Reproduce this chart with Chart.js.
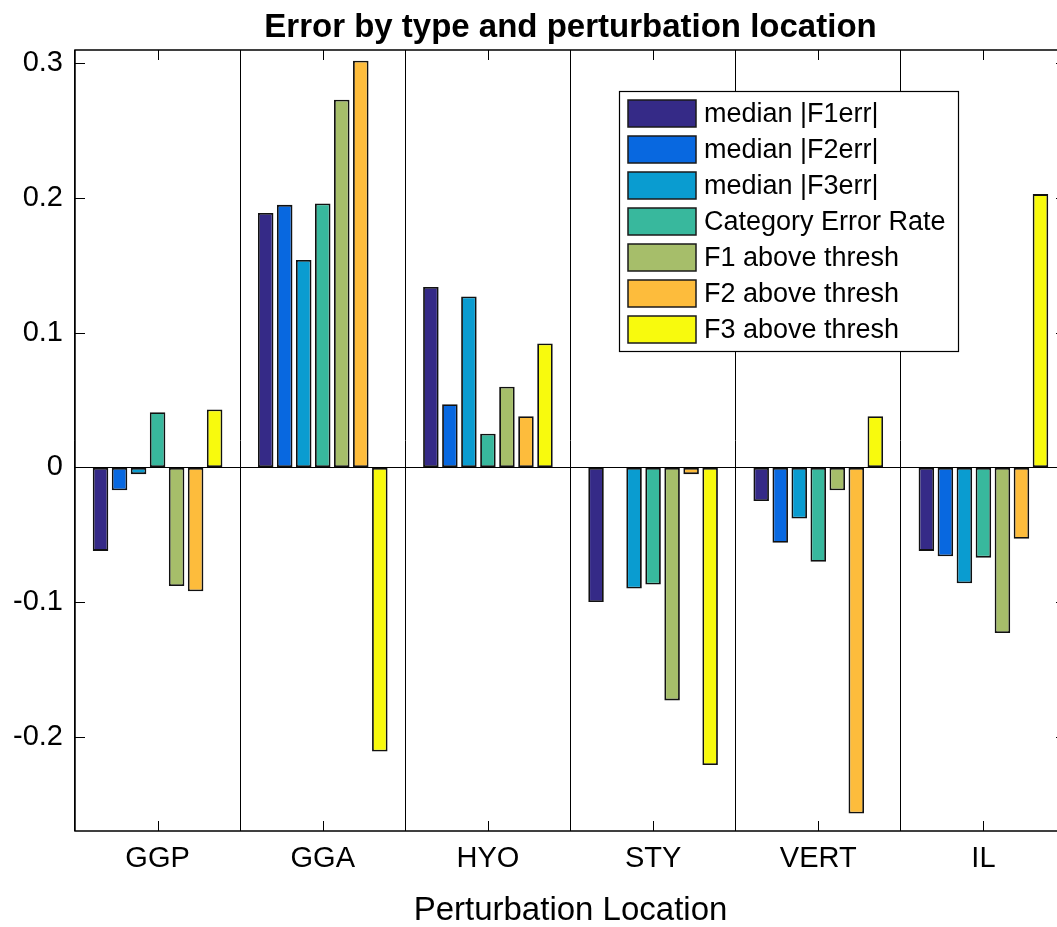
<!DOCTYPE html>
<html>
<head>
<meta charset="utf-8">
<title>Error by type and perturbation location</title>
<script src="https://cdn.jsdelivr.net/npm/chart.js@4.4.1/dist/chart.umd.min.js"></script>
<style>
  html, body { margin: 0; padding: 0; background: #fff; overflow: hidden; }
</style>
</head>
<body>
<canvas id="chart" width="1070" height="927"></canvas>
<script>
// categories along x
const categories = ['GGP', 'GGA', 'HYO', 'STY', 'VERT', 'IL'];

// one array per series (GGP, GGA, HYO, STY, VERT, IL)
const medianF1err   = [-0.062, 0.189, 0.134, -0.100, -0.025, -0.062];
const medianF2err   = [-0.017, 0.195, 0.047,  0.000, -0.056, -0.066];
const medianF3err   = [-0.005, 0.154, 0.127, -0.090, -0.038, -0.086];
const catErrorRate  = [ 0.041, 0.196, 0.025, -0.087, -0.070, -0.067];
const f1AboveThresh = [-0.088, 0.273, 0.060, -0.173, -0.017, -0.123];
const f2AboveThresh = [-0.092, 0.302, 0.038, -0.005, -0.257, -0.053];
const f3AboveThresh = [ 0.043, -0.211, 0.092, -0.221, 0.038, 0.203];

const seriesLabels = ['median |F1err|', 'median |F2err|', 'median |F3err|',
  'Category Error Rate', 'F1 above thresh', 'F2 above thresh', 'F3 above thresh'];
const seriesValues = [medianF1err, medianF2err, medianF3err, catErrorRate,
  f1AboveThresh, f2AboveThresh, f3AboveThresh];
// parula-like palette
const seriesColors = ['#352a87', '#0868e0', '#0a9cd0', '#38b89d', '#a6be6a', '#fdbc3c', '#f8fa0d'];

const yTicks = [-0.2, -0.1, 0, 0.1, 0.2, 0.3];

const FONT = '"Liberation Sans", Arial, Helvetica, sans-serif';

// MATLAB-style box, inward ticks, title and legend
const matlabAxes = {
  id: 'matlabAxes',
  afterDraw(chart) {
    const { ctx, chartArea: a, scales: { x, y } } = chart;
    ctx.save();
    ctx.strokeStyle = '#000';
    ctx.lineWidth = 1.5;
    ctx.strokeRect(a.left, a.top, a.right - a.left, a.bottom - a.top);

    // ticks pointing inward
    ctx.lineWidth = 1;
    ctx.beginPath();
    x.ticks.forEach((t, i) => {
      const px = Math.round(x.getPixelForTick(i)) + 0.5;
      ctx.moveTo(px, a.bottom); ctx.lineTo(px, a.bottom - 10);
      ctx.moveTo(px, a.top); ctx.lineTo(px, a.top + 10);
    });
    yTicks.forEach(v => {
      const py = Math.round(y.getPixelForValue(v)) + 0.5;
      ctx.moveTo(a.left, py); ctx.lineTo(a.left + 10, py);
      ctx.moveTo(a.right, py); ctx.lineTo(a.right - 10, py);
    });
    ctx.stroke();

    // title, centred on the axes
    ctx.fillStyle = '#000';
    ctx.font = 'bold 33px ' + FONT;
    ctx.textAlign = 'center';
    ctx.textBaseline = 'alphabetic';
    ctx.fillText('Error by type and perturbation location', (a.left + a.right) / 2, 37);

    // legend box
    const lx = 619, ly = 91, lw = 339, lh = 260;
    ctx.fillStyle = '#fff';
    ctx.fillRect(lx, ly, lw, lh);
    ctx.lineWidth = 1.2;
    ctx.strokeStyle = '#000';
    ctx.strokeRect(lx + 0.5, ly + 0.5, lw, lh);
    ctx.font = '27px ' + FONT;
    ctx.textAlign = 'left';
    ctx.textBaseline = 'middle';
    chart.data.datasets.forEach((ds, i) => {
      const ry = ly + 9 + i * 36;
      ctx.fillStyle = ds.backgroundColor;
      ctx.fillRect(lx + 9, ry, 68, 27);
      ctx.lineWidth = 1.5;
      ctx.strokeStyle = '#1a1a1a';
      ctx.strokeRect(lx + 9, ry, 68, 27);
      ctx.fillStyle = '#000';
      ctx.fillText(ds.label, lx + 85, ry + 15);
    });
    ctx.restore();
  }
};

new Chart(document.getElementById('chart').getContext('2d'), {
  type: 'bar',
  data: {
    labels: categories,
    datasets: seriesValues.map((vals, i) => ({
      label: seriesLabels[i],
      data: vals,
      backgroundColor: seriesColors[i],
      borderColor: '#111',
      borderWidth: 1.8,
      borderSkipped: false,
      categoryPercentage: 0.806,
      barPercentage: 0.816
    }))
  },
  options: {
    responsive: false,
    animation: false,
    devicePixelRatio: 1,
    layout: { padding: { top: 50, right: 4, left: 0, bottom: 0 } },
    plugins: {
      legend: { display: false },
      title: { display: false },
      tooltip: { enabled: false }
    },
    scales: {
      x: {
        offset: true,
        grid: { offset: true, color: '#000', lineWidth: 1, drawTicks: false },
        border: { display: false },
        ticks: { color: '#000', font: { family: FONT, size: 29 }, padding: 11, maxRotation: 0 },
        title: {
          display: true,
          text: 'Perturbation Location',
          color: '#000',
          font: { family: FONT, size: 33, lineHeight: 1 },
          padding: { top: 0, bottom: 0 }
        },
        afterFit(scale) { scale.height = 96; }
      },
      y: {
        min: -0.27,
        max: 0.31,
        z: 1,
        grid: {
          drawTicks: false,
          color: ctx => (ctx.tick && Math.abs(ctx.tick.value) < 1e-9 ? '#000' : 'rgba(0,0,0,0)'),
          lineWidth: 1
        },
        border: { display: false },
        ticks: {
          stepSize: 0.1,
          includeBounds: false,
          color: '#000',
          padding: 12,
          font: { family: FONT, size: 29 },
          callback: v => (Math.abs(v) < 1e-9 ? '0' : Number(v).toFixed(1))
        },
        afterFit(scale) { scale.width = 75; }
      }
    }
  },
  plugins: [matlabAxes]
});
</script>
</body>
</html>
